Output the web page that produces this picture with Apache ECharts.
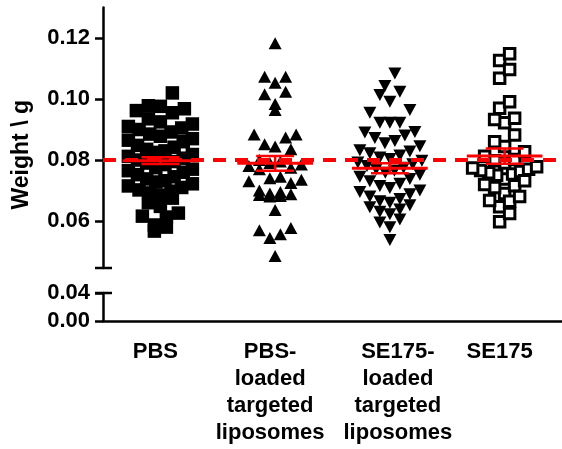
<!DOCTYPE html>
<html>
<head>
<meta charset="utf-8">
<script src="https://cdn.jsdelivr.net/npm/echarts@6/dist/echarts.min.js"></script>
<style>
html,body{margin:0;padding:0;background:#fff;}
#chart{width:562px;height:449px;}
</style>
</head>
<body>
<div id="chart"></div>
<script>
// ---- data ----
const categories = ['PBS', 'PBS-\nloaded\ntargeted\nliposomes', 'SE175-\nloaded\ntargeted\nliposomes', 'SE175'];

const pbs = [
  0.1020,
  0.0978, 0.0976, 0.0968, 0.0962, 0.0955,
  0.0935, 0.0925, 0.0918, 0.0910, 0.0905, 0.0900,
  0.0892, 0.0885, 0.0878, 0.0870, 0.0865, 0.0860,
  0.0848, 0.0842, 0.0835, 0.0830, 0.0825, 0.0818,
  0.0812, 0.0806, 0.0800, 0.0795, 0.0790, 0.0785,
  0.0775, 0.0770, 0.0765, 0.0760, 0.0752, 0.0745,
  0.0738, 0.0732, 0.0728, 0.0722, 0.0715, 0.0710,
  0.0702, 0.0698, 0.0692, 0.0685, 0.0675,
  0.0660, 0.0648,
  0.0626, 0.0616, 0.0613, 0.0587, 0.0580, 0.0567
];

const pbsLiposomes = [
  0.1183, 0.1073, 0.1073, 0.1053, 0.1024, 0.1016, 0.0984, 0.0964,
  0.0884, 0.0884, 0.0874, 0.0852, 0.0844, 0.0835,
  0.0800, 0.0795, 0.0790, 0.0785, 0.0780, 0.0775, 0.0770,
  0.0745, 0.0740, 0.0735, 0.0730, 0.0725,
  0.0700, 0.0695, 0.0690, 0.0688, 0.0685, 0.0682, 0.0680,
  0.0636,
  0.0577, 0.0570, 0.0557, 0.0544,
  0.0485
];

const se175Liposomes = [
  0.1084, 0.1043, 0.1024, 0.1013, 0.0991, 0.0964, 0.0955, 0.0922, 0.0922, 0.0922,
  0.0892, 0.0890, 0.0880, 0.0872, 0.0862, 0.0855, 0.0845,
  0.0832, 0.0828, 0.0822, 0.0815, 0.0808, 0.0803,
  0.0798, 0.0792, 0.0786, 0.0780, 0.0775, 0.0770, 0.0765,
  0.0758, 0.0752, 0.0745, 0.0738, 0.0730, 0.0722, 0.0715, 0.0708, 0.0700,
  0.0695, 0.0688, 0.0680, 0.0672, 0.0665,
  0.0660, 0.0652, 0.0645, 0.0638, 0.0630, 0.0622,
  0.0605, 0.0595, 0.0580,
  0.0538
];

const se175 = [
  0.1148, 0.1126, 0.1097, 0.1068, 0.0991, 0.0970, 0.0937, 0.0933, 0.0922,
  0.0882, 0.0860, 0.0844, 0.0827, 0.0812,
  0.0802, 0.0798, 0.0790,
  0.0778, 0.0774, 0.0770, 0.0766, 0.0762, 0.0758, 0.0754, 0.0750,
  0.0738, 0.0732,
  0.0720, 0.0716, 0.0710,
  0.0690, 0.0680, 0.0667, 0.0665, 0.0647, 0.0625, 0.0598
];

const groupMeans = [0.0798, 0.0789, 0.0773, 0.0813];
const groupSems  = [0.0011, 0.0024, 0.0016, 0.0025];
const referenceWeight = 0.08;

const upperTicks = [0.06, 0.08, 0.10, 0.12];
const lowerTicks = [0.00, 0.04];
const upperMin = 0.0446, upperMax = 0.13;
const lowerMin = 0.00, lowerMax = 0.04;

// ---- chart ----
const groups = [pbs, pbsLiposomes, se175Liposomes, se175];
const FONT = '"Liberation Sans", Arial, Helvetica, sans-serif';
const RED = '#ff0000';
const AXIS = {lineStyle: {color: '#000', width: 2.5}};
const GRID_LEFT = 103, GRID_WIDTH = 461;

const symbolDefs = [
  {symbol: 'rect', symbolSize: 13.5, symbolRotate: 0, itemStyle: {color: '#000', opacity: 1}},
  {symbol: 'triangle', symbolSize: [13, 12], symbolRotate: 0, itemStyle: {color: '#000', opacity: 1}},
  {symbol: 'triangle', symbolSize: [13, 12], symbolRotate: 180, itemStyle: {color: '#000', opacity: 1}},
  {symbol: 'rect', symbolSize: 10.5, symbolRotate: 0, itemStyle: {color: '#fff', borderColor: '#000', borderWidth: 3, opacity: 1}}
];

// axis-break cap: a short horizontal bar across the y-axis line at the given value
function capSeries(xIdx, yIdx, capValue, xAtAxis) {
  return {
    type: 'custom', xAxisIndex: xIdx, yAxisIndex: yIdx, z: 10, silent: true, clip: false,
    data: [[xAtAxis, capValue]],
    renderItem: function (params, api) {
      const p = api.coord([api.value(0), api.value(1)]);
      const x0 = params.coordSys.x;
      return {type: 'line', shape: {x1: x0 - 8, y1: p[1], x2: x0 + 9, y2: p[1]},
        style: {stroke: '#000', lineWidth: 2.5}};
    }
  };
}

function buildOption(scatterData) {
  const scatterSeries = groups.map((g, gi) => ({
    type: 'scatter',
    xAxisIndex: 0, yAxisIndex: 0,
    symbol: symbolDefs[gi].symbol,
    symbolSize: symbolDefs[gi].symbolSize,
    symbolRotate: symbolDefs[gi].symbolRotate,
    itemStyle: symbolDefs[gi].itemStyle,
    data: scatterData[gi],
    z: 2,
    silent: true,
    animation: false
  }));
  return {
    animation: false,
    backgroundColor: '#fff',
    grid: [
      {left: GRID_LEFT, width: GRID_WIDTH, top: 7.5, height: 260.5, containLabel: false},
      {left: GRID_LEFT, width: GRID_WIDTH, top: 293, height: 28, containLabel: false}
    ],
    xAxis: [
      {gridIndex: 0, type: 'value', min: -0.5, max: 3.5, show: false},
      {gridIndex: 1, type: 'category', data: categories.map((c, i) => ({
          value: c,
          textStyle: {padding: i === 2 ? [0, 0, 0, 16] : [0, 10, 0, 0]}
        })),
        boundaryGap: true,
        axisLine: AXIS,
        axisTick: {alignWithLabel: true, length: 8, lineStyle: {color: '#000', width: 2.5}},
        axisLabel: {interval: 0, margin: 17, color: '#000', fontFamily: FONT, fontWeight: 'bold', fontSize: 22, lineHeight: 27},
        splitLine: {show: false}
      }
    ],
    yAxis: [
      {gridIndex: 0, type: 'value', min: upperMin, max: upperMax, position: 'left',
        name: 'Weight \\ g', nameLocation: 'middle', nameRotate: 90, nameGap: 70,
        nameTextStyle: {color: '#000', fontFamily: FONT, fontWeight: 'bold', fontSize: 23, padding: [0, 34, 0, 0]},
        axisLine: {show: true, onZero: false, lineStyle: {color: '#000', width: 2.5}},
        axisTick: {show: true, length: 8, customValues: upperTicks, lineStyle: {color: '#000', width: 2.5}},
        axisLabel: {margin: 13, color: '#000', fontFamily: FONT, fontWeight: 'bold', fontSize: 22,
          customValues: upperTicks, formatter: v => v.toFixed(2)},
        splitLine: {show: false}
      },
      {gridIndex: 1, type: 'value', min: lowerMin, max: lowerMax, interval: 0.04, position: 'left',
        axisLine: {show: true, onZero: false, lineStyle: {color: '#000', width: 2.5}},
        axisTick: {show: true, length: 8, lineStyle: {color: '#000', width: 2.5}},
        axisLabel: {margin: 13, color: '#000', fontFamily: FONT, fontWeight: 'bold', fontSize: 22,
          customValues: lowerTicks, formatter: v => v.toFixed(2)},
        splitLine: {show: false}
      }
    ],
    series: scatterSeries.concat([
      {
        type: 'custom',
        xAxisIndex: 0, yAxisIndex: 0,
        z: 6, silent: true,
        data: groupMeans.map((m, i) => [i, m, groupSems[i]]),
        renderItem: function (params, api) {
          const gi = api.value(0), m = api.value(1), s = api.value(2);
          const c = api.coord([gi, m]);
          const hi = api.coord([gi, m + s]);
          const lo = api.coord([gi, m - s]);
          const band = api.size([1, 0])[0];
          const mw = band * 0.33, cw = band * 0.165;
          return {
            type: 'group',
            children: [
              {type: 'line', shape: {x1: c[0] - mw, y1: c[1], x2: c[0] + mw, y2: c[1]}, style: {stroke: RED, lineWidth: 3}},
              {type: 'line', shape: {x1: c[0], y1: hi[1], x2: c[0], y2: lo[1]}, style: {stroke: RED, lineWidth: 2.5}},
              {type: 'line', shape: {x1: c[0] - cw, y1: hi[1], x2: c[0] + cw, y2: hi[1]}, style: {stroke: RED, lineWidth: 2.5}},
              {type: 'line', shape: {x1: c[0] - cw, y1: lo[1], x2: c[0] + cw, y2: lo[1]}, style: {stroke: RED, lineWidth: 2.5}}
            ]
          };
        }
      },
      {
        type: 'line', xAxisIndex: 0, yAxisIndex: 0, data: [], z: 5, silent: true,
        markLine: {
          silent: true, symbol: 'none', label: {show: false},
          lineStyle: {color: RED, width: 4, type: [13, 9]},
          data: [{yAxis: referenceWeight}]
        }
      },
      capSeries(0, 0, upperMin, 0),
      capSeries(1, 1, lowerMax, 0)
    ])
  };
}

const chart = echarts.init(document.getElementById('chart'), null, {renderer: 'canvas'});
chart.setOption(buildOption(groups.map((g, gi) => g.map(v => [gi, v]))));

// beeswarm-like row layout (Prism style): bin by pixel height, spread horizontally, lowest in centre
const spacing = [12, 10.5, 10, 10];
const binH = 14, maxSpan = 64;
function layout() {
  const p0 = chart.convertToPixel({xAxisIndex: 0, yAxisIndex: 0}, [0, 0.08]);
  const p1 = chart.convertToPixel({xAxisIndex: 0, yAxisIndex: 0}, [1, 0.10]);
  const pxPerX = p1[0] - p0[0];
  const pxPerY = (p0[1] - p1[1]) / 0.02;
  return groups.map((vals, gi) => {
    const out = [];
    const sorted = vals.slice().sort((a, b) => b - a);
    const bins = [];
    let cur = null;
    sorted.forEach(v => {
      if (!cur || (cur.top - v) * pxPerY > binH) { cur = {top: v, pts: []}; bins.push(cur); }
      cur.pts.push(v);
    });
    bins.forEach(b => {
      const asc = b.pts.slice().sort((a, c) => a - c);
      const n = asc.length;
      let step = spacing[gi];
      if (n > 1 && (n - 1) * step > maxSpan) step = maxSpan / (n - 1);
      asc.forEach((v, i) => {
        let k;
        if (n % 2 === 1) k = i === 0 ? 0 : (i % 2 === 1 ? -Math.ceil(i / 2) : Math.ceil(i / 2));
        else k = i % 2 === 0 ? -(i / 2 + 0.5) : (Math.floor(i / 2) + 0.5);
        out.push([gi + k * step / pxPerX, v]);
      });
    });
    return out;
  });
}
chart.setOption(buildOption(layout()));
</script>
</body>
</html>
